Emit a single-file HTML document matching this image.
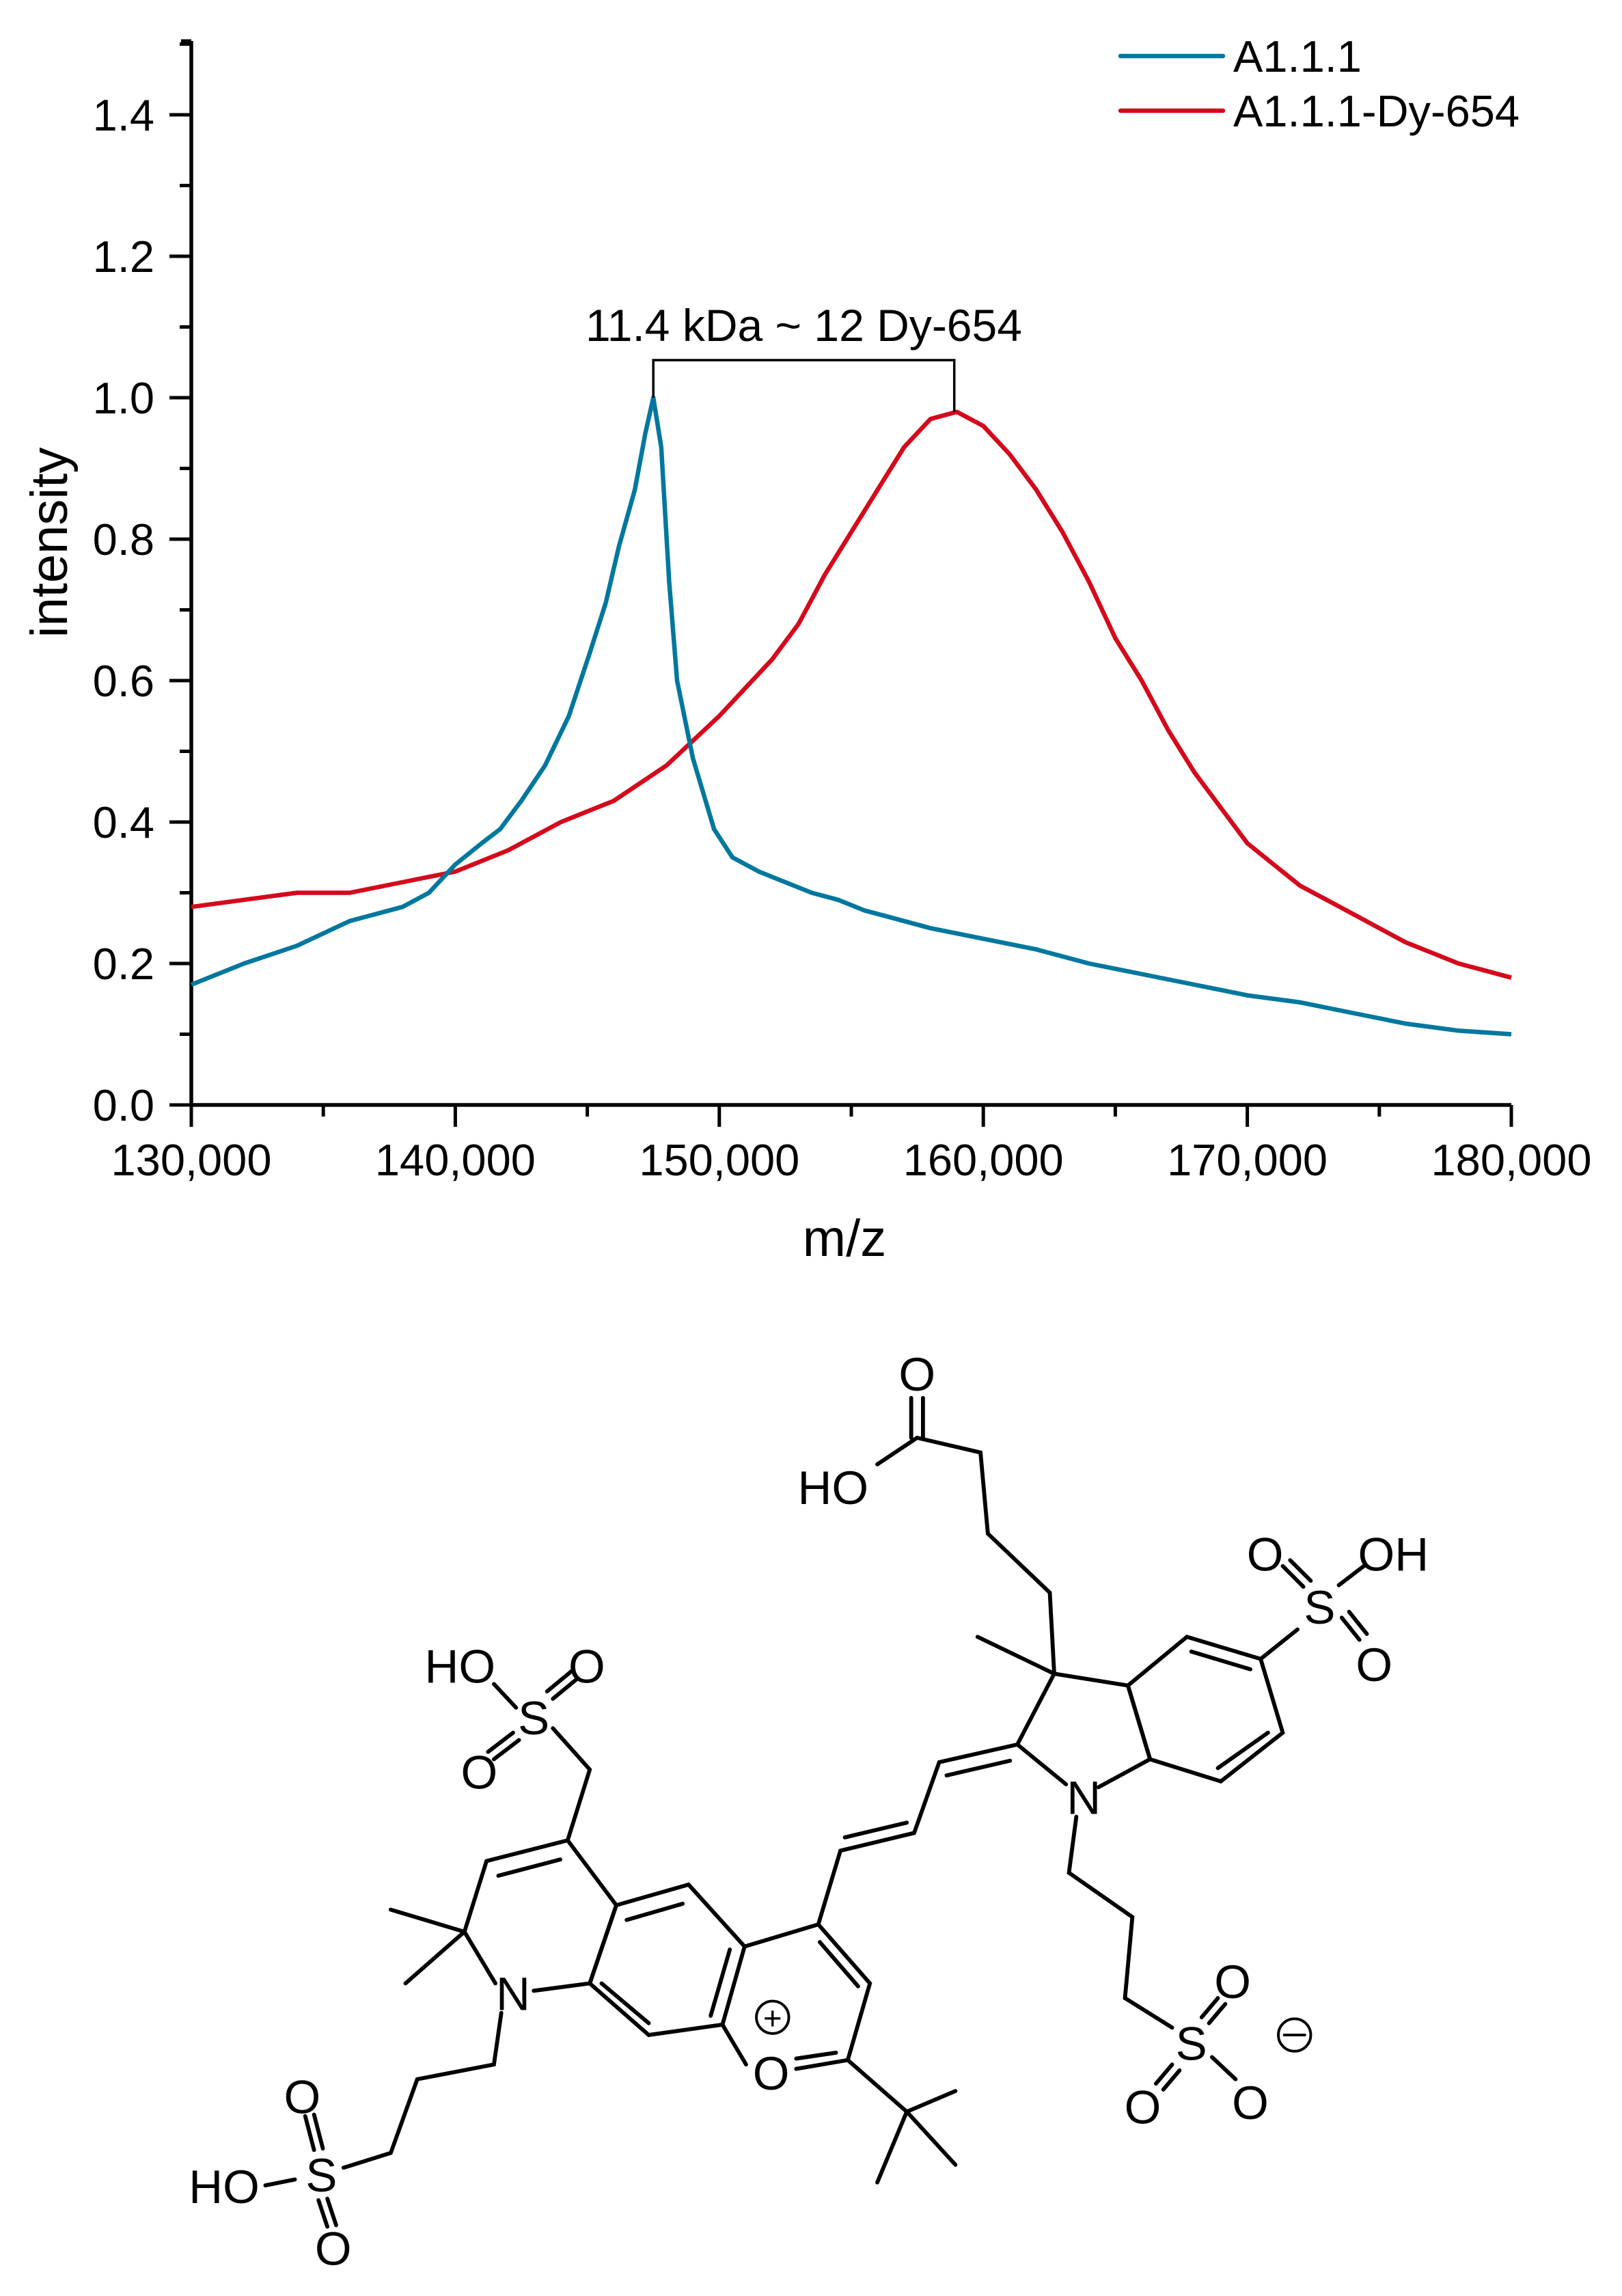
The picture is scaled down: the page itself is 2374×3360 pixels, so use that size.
<!DOCTYPE html>
<html><head><meta charset="utf-8"><style>
html,body{margin:0;padding:0;background:#fff;}
svg{display:block;font-family:"Liberation Sans",Arial,sans-serif;}
</style></head>
<body>
<svg id="fig" width="2374" height="3360" viewBox="0 0 2374 3360" xmlns="http://www.w3.org/2000/svg">
<g id="chart"></g>
<g id="structure" transform="scale(2.158)" stroke="#000" stroke-width="2.7" fill="none" stroke-linecap="round">
  <polyline points="330,1262 385,1248 418,1292 400,1345 362,1350"/>
  <polyline points="336,1345 315,1310 330,1262"/>
  <line x1="338" y1="1272" x2="380" y2="1261"/>
  <line x1="315" y1="1310" x2="265" y2="1295"/>
  <line x1="315" y1="1310" x2="275" y2="1345"/>
  <polyline points="385,1248 400,1200 375,1172"/>
  <line x1="375" y1="1152" x2="392" y2="1138"/>
  <line x1="371" y1="1147" x2="388" y2="1133"/>
  <line x1="352" y1="1180" x2="335" y2="1193"/>
  <line x1="348" y1="1175" x2="331" y2="1188"/>
  <line x1="350" y1="1158" x2="335" y2="1142"/>
  <polyline points="340,1365 335,1400 283,1410 265,1460 233,1470"/>
  <line x1="213" y1="1458" x2="207" y2="1435"/>
  <line x1="219" y1="1457" x2="213" y2="1434"/>
  <line x1="216" y1="1492" x2="222" y2="1510"/>
  <line x1="222" y1="1491" x2="228" y2="1509"/>
  <line x1="200" y1="1478" x2="180" y2="1482"/>
  <polygon points="418,1292 467,1278 505,1320 490,1373 440,1380 400,1345"/>
  <line x1="425" y1="1302" x2="463" y2="1291"/>
  <line x1="408" y1="1345" x2="440" y2="1372"/>
  <line x1="495" y1="1322" x2="482" y2="1367"/>
  <polyline points="505,1320 555,1305 590,1345 575,1397 540,1403"/>
  <line x1="506" y1="1400" x2="490" y2="1373"/>
  <line x1="556" y1="1317" x2="582" y2="1347"/>
  <line x1="567" y1="1392" x2="540" y2="1396"/>
  <polyline points="575,1397 615,1432"/>
  <line x1="615" y1="1432" x2="648" y2="1418"/>
  <line x1="615" y1="1432" x2="595" y2="1480"/>
  <line x1="615" y1="1432" x2="648" y2="1468"/>
  <polyline points="555,1305 570,1255 620,1243 637,1195 690,1183"/>
  <line x1="573" y1="1246" x2="615" y2="1236"/>
  <line x1="642" y1="1204" x2="685" y2="1194"/>
  <polyline points="723,1210 690,1183 715,1135 765,1143 780,1193 745,1212"/>
  <polygon points="765,1143 805,1110 855,1125 870,1175 828,1208 780,1193"/>
  <line x1="808" y1="1120" x2="848" y2="1132"/>
  <line x1="860" y1="1175" x2="826" y2="1199"/>
  <line x1="715" y1="1135" x2="663" y2="1110"/>
  <polyline points="715,1135 712,1080 670,1040 665,985 622,975"/>
  <line x1="618" y1="975" x2="618" y2="948"/>
  <line x1="626" y1="975" x2="626" y2="948"/>
  <line x1="622" y1="975" x2="595" y2="993"/>
  <line x1="855" y1="1125" x2="880" y2="1105"/>
  <line x1="884" y1="1076" x2="870" y2="1062"/>
  <line x1="889" y1="1072" x2="875" y2="1058"/>
  <line x1="910" y1="1097" x2="922" y2="1112"/>
  <line x1="915" y1="1093" x2="927" y2="1108"/>
  <line x1="908" y1="1075" x2="925" y2="1062"/>
  <polyline points="730,1232 725,1270 768,1300 763,1355 795,1375"/>
  <line x1="815" y1="1368" x2="826" y2="1355"/>
  <line x1="820" y1="1372" x2="831" y2="1359"/>
  <line x1="795" y1="1400" x2="784" y2="1413"/>
  <line x1="800" y1="1404" x2="789" y2="1417"/>
  <line x1="822" y1="1395" x2="838" y2="1410"/>
  <g stroke="none" fill="#000" font-size="32" text-anchor="middle">
    <text x="362" y="1176">S</text>
    <text x="398" y="1141">O</text>
    <text x="325" y="1213">O</text>
    <text x="312" y="1141">HO</text>
    <text x="348" y="1363">N</text>
    <text x="218" y="1486">S</text>
    <text x="205" y="1433">O</text>
    <text x="226" y="1536">O</text>
    <text x="152" y="1494">HO</text>
    <text x="523" y="1417">O</text>
    <circle cx="524" cy="1368" r="11" fill="none" stroke="#000" stroke-width="1.8"/>
    <text x="524" y="1376" font-size="22">+</text>
    <text x="735" y="1230">N</text>
    <text x="622" y="943">O</text>
    <text x="565" y="1020">HO</text>
    <text x="895" y="1101">S</text>
    <text x="858" y="1065">O</text>
    <text x="945" y="1065">OH</text>
    <text x="932" y="1140">O</text>
    <text x="808" y="1397">S</text>
    <text x="836" y="1355">O</text>
    <text x="775" y="1440">O</text>
    <text x="848" y="1437">O</text>
    <circle cx="878" cy="1380" r="11" fill="none" stroke="#000" stroke-width="1.8"/>
    <line x1="871" y1="1380" x2="885" y2="1380" stroke="#000" stroke-width="1.8"/>
  </g>
</g>
</svg>
<script>
const xTicks = [130000, 140000, 150000, 160000, 170000, 180000];
const xTickLabels = ["130,000", "140,000", "150,000", "160,000", "170,000", "180,000"];
const yTicks = [0, 0.2, 0.4, 0.6, 0.8, 1.0, 1.2, 1.4];
const yTickLabels = ["0.0", "0.2", "0.4", "0.6", "0.8", "1.0", "1.2", "1.4"];
const mzBlue = [130000,132000,134000,136000,138000,139000,140000,141000,141700,142500,143400,144300,145100,145700,146200,146800,147200,147500,147800,148100,148400,149000,149800,150500,151500,152500,153500,154500,155500,156500,158000,160000,162000,164000,166000,168000,170000,172000,174000,176000,178000,180000];
const intBlue = [0.17,0.20,0.225,0.26,0.28,0.30,0.34,0.37,0.39,0.43,0.48,0.55,0.64,0.71,0.79,0.87,0.95,1.0,0.93,0.74,0.60,0.49,0.39,0.35,0.33,0.315,0.30,0.29,0.275,0.265,0.25,0.235,0.22,0.20,0.185,0.17,0.155,0.145,0.13,0.115,0.105,0.10];
const mzRed = [130000,132000,134000,136000,138000,140000,142000,144000,146000,148000,150000,151000,152000,153000,154000,155000,156000,157000,158000,159000,160000,161000,162000,163000,164000,165000,166000,167000,168000,169000,170000,171000,172000,173000,174000,175000,176000,177000,178000,179000,180000];
const intRed = [0.28,0.29,0.30,0.30,0.315,0.33,0.36,0.40,0.43,0.48,0.55,0.59,0.63,0.68,0.75,0.81,0.87,0.93,0.97,0.98,0.96,0.92,0.87,0.81,0.74,0.66,0.60,0.53,0.47,0.42,0.37,0.34,0.31,0.29,0.27,0.25,0.23,0.215,0.20,0.19,0.18];
const seriesNames = ["A1.1.1", "A1.1.1-Dy-654"];
const annotationPeaks = [147500, 158900];
const annotationText = "11.4 kDa ~ 12 Dy-654";

const NS = "http://www.w3.org/2000/svg";
const X0 = 280, X1 = 2212, Y0 = 1617, YTOP = 60;
const xMin = 130000, xMax = 180000;
function xs(v){ return X0 + (v - xMin) / (xMax - xMin) * (X1 - X0); }
function ys(v){ return Y0 - v * 1035; }
const chart = document.getElementById('chart');
function mk(tag, attrs, parent){
  const e = document.createElementNS(NS, tag);
  for (const k in attrs) e.setAttribute(k, attrs[k]);
  (parent || chart).appendChild(e);
  return e;
}
let ax = mk('line', {x1:X0, y1:Y0, x2:X1, y2:Y0, stroke:'#000', 'stroke-width':5.5});


let ay = mk('line', {x1:X0, y1:Y0, x2:X0, y2:YTOP, stroke:'#000', 'stroke-width':5.5});


let cap = mk('line', {x1:X0-15, y1:YTOP, x2:X0, y2:YTOP, stroke:'#000', 'stroke-width':5});


xTicks.forEach((v, i) => {
  const t = mk('line', {x1:xs(v), y1:Y0, x2:xs(v), y2:Y0+32, stroke:'#000', 'stroke-width':5});
  
  
  if (i < xTicks.length - 1) {
    const m = mk('line', {x1:xs(v+5000), y1:Y0, x2:xs(v+5000), y2:Y0+17, stroke:'#000', 'stroke-width':5});
    
    
  }
  const l = mk('text', {x:xs(v), y:1720, 'font-size':65, 'text-anchor':'middle'});
  l.textContent = xTickLabels[i];
  
  
});
yTicks.forEach((v, i) => {
  const t = mk('line', {x1:X0-32, y1:ys(v), x2:X0, y2:ys(v), stroke:'#000', 'stroke-width':5});
  
  
  const m = mk('line', {x1:X0-17, y1:ys(v+0.1), x2:X0, y2:ys(v+0.1), stroke:'#000', 'stroke-width':5});
  
  
  const l = mk('text', {x:226, y:ys(v)+23, 'font-size':65, 'text-anchor':'end'});
  l.textContent = yTickLabels[i];
  
  
});
const xt = mk('text', {x:1236, y:1838, 'font-size':76, 'text-anchor':'middle'});
xt.textContent = 'm/z';


const yt = mk('text', {x:0, y:0, 'font-size':76, 'text-anchor':'middle', transform:'translate(98,794) rotate(-90)'});
yt.textContent = 'intensity';


function pathOf(mz, it){ return mz.map((m, i) => (i ? 'L' : 'M') + xs(m).toFixed(1) + ',' + ys(it[i]).toFixed(1)).join(' '); }
const pr = mk('path', {d:pathOf(mzRed, intRed), stroke:'#d40a1c', 'stroke-width':6.5, fill:'none', 'stroke-linejoin':'round'});


const pb = mk('path', {d:pathOf(mzBlue, intBlue), stroke:'#00779e', 'stroke-width':6.5, fill:'none', 'stroke-linejoin':'round'});


const ax1 = xs(annotationPeaks[0]), ax2 = xs(annotationPeaks[1]), by = 527;
const br = mk('polyline', {points:`${ax1},${ys(1.0)} ${ax1},${by} ${ax2},${by} ${ax2},${ys(0.98)}`, stroke:'#000', 'stroke-width':3.5, fill:'none'});


const at = mk('text', {x:(ax1+ax2)/2, y:499, 'font-size':66, 'text-anchor':'middle'});
at.textContent = annotationText;


const legColors = ['#00779e', '#d40a1c'];
seriesNames.forEach((n, i) => {
  const yy = 82 + i * 80;
  const g = mk('g', {});
  
  
  mk('line', {x1:1640, y1:yy, x2:1790, y2:yy, stroke:legColors[i], 'stroke-width':6.5, 'stroke-linecap':'round'}, g);
  const t = mk('text', {x:1805, y:yy+23, 'font-size':65}, g);
  t.textContent = n;
});
</script>
</body></html>
